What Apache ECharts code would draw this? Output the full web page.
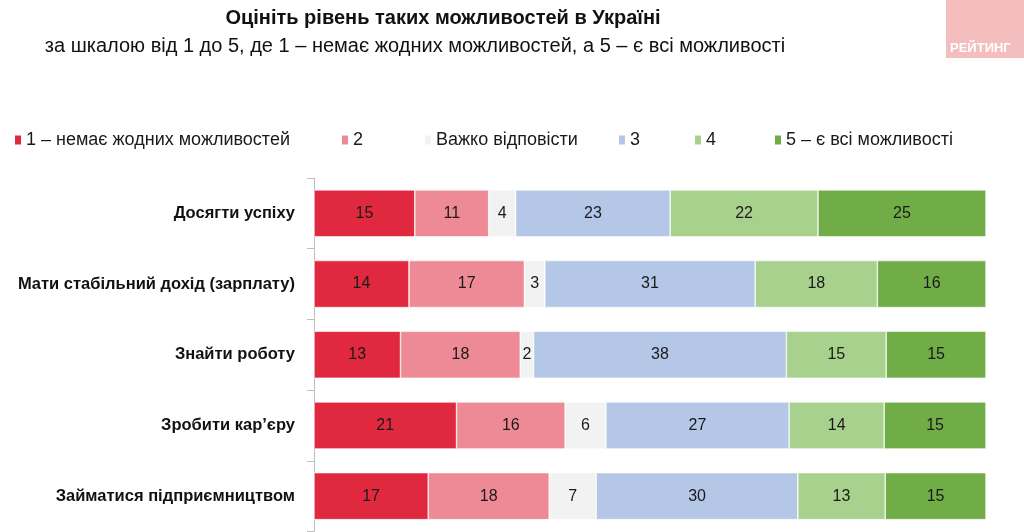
<!DOCTYPE html>
<html>
<head>
<meta charset="utf-8">
<script src="https://cdn.jsdelivr.net/npm/echarts@6/dist/echarts.min.js"></script>
<style>
  html, body { margin: 0; padding: 0; background: #fff; }
  #chart { width: 1024px; height: 532px; }
</style>
</head>
<body>
<div id="chart"></div>
<script>
  var categories = ['Досягти успіху', 'Мати стабільний дохід (зарплату)', 'Знайти роботу', 'Зробити кар’єру', 'Займатися підприємництвом']
  var seriesNames = ['1 – немає жодних можливостей', '2', 'Важко відповісти', '3', '4', '5 – є всі можливості']
  var s1 = [15, 14, 13, 21, 17]
  var s2 = [11, 17, 18, 16, 18]
  var sDk = [4, 3, 2, 6, 7]
  var s3 = [23, 31, 38, 27, 30]
  var s4 = [22, 18, 15, 14, 13]
  var s5 = [25, 16, 15, 15, 15]
  var seriesValues = [s1, s2, sDk, s3, s4, s5]
  var colorList = ['#E0283F', '#EE8A95', '#F2F2F2', '#B4C7E7', '#A9D18E', '#70AD47']
  var legendLeft = [13, 340, 423, 617, 693, 773]

  var font = '"Liberation Sans", Arial, sans-serif'
  var dom = echarts.init(document.getElementById('chart'))

  // 100% stacked, like the original: each row is scaled to its own total
  var rowTotals = categories.map(function (c, r) {
    return seriesValues.reduce(function (sum, vals) { return sum + vals[r] }, 0)
  })

  var series = seriesValues.map(function (vals, i) {
    return {
      name: seriesNames[i],
      type: 'bar',
      stack: 'total',
      data: vals.map(function (v, r) {
        return { value: v * 100 / rowTotals[r], raw: v }
      }),
      barWidth: 47,
      itemStyle: { color: colorList[i], borderColor: '#fff', borderWidth: 0.6 },
      label: {
        show: true,
        position: 'inside',
        color: '#1a1a1a',
        fontFamily: font,
        fontSize: 16,
        formatter: function (p) { return p.data.raw }
      }
    }
  })

  var legends = seriesNames.map(function (n, i) {
    return {
      data: [n],
      left: legendLeft[i],
      top: 131,
      padding: 0,
      icon: 'rect',
      itemWidth: 8,
      itemHeight: 11,
      itemGap: 4,
      textStyle: { fontFamily: font, fontSize: 18, color: '#1a1a1a', padding: [0, 0, 0, -1] },
      selectedMode: false
    }
  })

  var option = {
    animation: false,
    title: [{
      text: 'Оцініть рівень таких можливостей в Україні',
      left: 438,
      textAlign: 'center',
      top: 3,
      textStyle: { fontFamily: font, fontSize: 20, fontWeight: 'bold', color: '#111' }
    }, {
      text: 'за шкалою від 1 до 5, де 1 – немає жодних можливостей, а 5 – є всі можливості',
      left: 410,
      textAlign: 'center',
      top: 31,
      textStyle: { fontFamily: font, fontSize: 20, fontWeight: 'normal', color: '#111' }
    }],
    legend: legends,
    graphic: [{
      type: 'rect',
      left: 946,
      top: 0,
      shape: { width: 78, height: 58 },
      style: { fill: '#F4BEBF' }
    }, {
      type: 'text',
      left: 950,
      top: 42,
      style: { text: 'РЕЙТИНГ', fill: '#fff', font: 'bold 13px ' + font }
    }],
    grid: { left: 314, right: 38, top: 178, height: 353.5 },
    xAxis: {
      type: 'value',
      min: 0,
      max: 100,
      show: false
    },
    yAxis: {
      type: 'category',
      data: categories,
      inverse: true,
      axisLine: { show: true, lineStyle: { color: '#BFBFBF', width: 1 } },
      axisTick: { show: true, length: 7, lineStyle: { color: '#BFBFBF' } },
      axisLabel: {
        margin: 19,
        color: '#111',
        fontFamily: font,
        fontSize: 16.5,
        fontWeight: 'bold'
      }
    },
    series: series
  }
  dom.setOption(option)
</script>
</body>
</html>
